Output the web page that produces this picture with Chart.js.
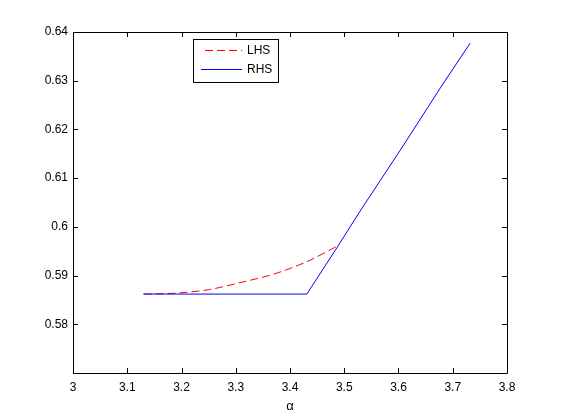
<!DOCTYPE html>
<html lang="en">
<head>
  <meta charset="UTF-8">
  <title>LHS vs RHS</title>
  <style>
    body { margin: 0; background: #fff; }
    #chart { display: block; }
  </style>
</head>
<body>
  <canvas id="chart" width="561" height="420"></canvas>

  <script src="https://cdn.jsdelivr.net/npm/chart.js"></script>
  <script>
    const lhsX = [3.13, 3.19, 3.25, 3.31, 3.37, 3.43, 3.49];
    const lhsY = [0.5862, 0.5864, 0.5871, 0.5886, 0.5903, 0.5928, 0.5962];

    const rhsX = [3.13, 3.431, 3.487, 3.529, 3.603, 3.677, 3.732];
    const rhsY = [0.5862, 0.5862, 0.5958, 0.6032, 0.6157, 0.6285, 0.6377];

    const seriesNames = ['LHS', 'RHS'];
    const FONT = "'Liberation Sans', Arial, sans-serif";

    const toPoints = (xs, ys) => xs.map((x, i) => ({ x: x, y: ys[i] }));

    // box, inward ticks and legend like the original figure
    const frame = {
      id: 'frame',
      afterDraw(chart) {
        const ctx = chart.ctx;
        const a = chart.chartArea;
        const xs = chart.scales.x, ys = chart.scales.y;
        ctx.save();
        ctx.strokeStyle = '#000';
        ctx.lineWidth = 1;
        ctx.beginPath();
        ctx.rect(Math.round(a.left) + 0.5, Math.round(a.top) + 0.5,
                 Math.round(a.right - a.left), Math.round(a.bottom - a.top));
        xs.ticks.forEach(t => {
          const px = Math.round(xs.getPixelForValue(t.value)) + 0.5;
          ctx.moveTo(px, a.bottom); ctx.lineTo(px, a.bottom - 5);
          ctx.moveTo(px, a.top); ctx.lineTo(px, a.top + 5);
        });
        ys.ticks.forEach(t => {
          const py = Math.round(ys.getPixelForValue(t.value)) + 0.5;
          ctx.moveTo(a.left, py); ctx.lineTo(a.left + 5, py);
          ctx.moveTo(a.right, py); ctx.lineTo(a.right - 5, py);
        });
        ctx.stroke();

        // legend
        ctx.fillStyle = '#fff';
        ctx.fillRect(193, 39, 85, 43);
        ctx.strokeRect(193.5, 39.5, 85, 43);
        ctx.font = '12px ' + FONT;
        ctx.textBaseline = 'middle';
        ctx.fillStyle = '#000';
        ctx.strokeStyle = '#ff0000';
        ctx.setLineDash([8, 4]);
        ctx.beginPath();
        ctx.moveTo(205, 50.5); ctx.lineTo(242, 50.5);
        ctx.stroke();
        ctx.setLineDash([]);
        ctx.strokeStyle = '#0000ff';
        ctx.beginPath();
        ctx.moveTo(201, 69.5); ctx.lineTo(242, 69.5);
        ctx.stroke();
        ctx.fillText(seriesNames[0], 247, 51);
        ctx.fillText(seriesNames[1], 247, 70);
        ctx.restore();
      }
    };

    new Chart(document.getElementById('chart'), {
      type: 'scatter',
      data: {
        datasets: [
          {
            label: seriesNames[0],
            data: toPoints(lhsX, lhsY),
            showLine: true,
            borderColor: '#ff0000',
            borderWidth: 1,
            borderDash: [8, 4],
            pointRadius: 0,
            tension: 0.3,
            order: 2
          },
          {
            label: seriesNames[1],
            data: toPoints(rhsX, rhsY),
            showLine: true,
            borderColor: '#0000ff',
            borderWidth: 1,
            pointRadius: 0,
            tension: 0,
            order: 1
          }
        ]
      },
      options: {
        responsive: false,
        animation: false,
        layout: { padding: { left: 0, top: 32, right: 54, bottom: 0 } },
        plugins: {
          legend: { display: false },
          tooltip: { enabled: false }
        },
        scales: {
          x: {
            type: 'linear',
            min: 3, max: 3.8,
            border: { display: false },
            grid: { display: false, drawTicks: false },
            ticks: {
              stepSize: 0.1,
              padding: 7,
              color: '#000',
              font: { family: FONT, size: 12 },
              maxRotation: 0,
              callback: v => String(Math.round(v * 10) / 10)
            },
            title: {
              display: true,
              text: 'α',
              color: '#000',
              font: { family: FONT, size: 13 },
              padding: { top: 0, bottom: 6 }
            },
            afterFit: s => { s.height = 47; }
          },
          y: {
            type: 'linear',
            min: 0.57, max: 0.64,
            border: { display: false },
            grid: { display: false, drawTicks: false },
            ticks: {
              stepSize: 0.01,
              padding: 5,
              color: '#000',
              font: { family: FONT, size: 12 },
              callback: v => Math.abs(v - 0.57) < 1e-6 ? '' : String(Math.round(v * 100) / 100)
            },
            afterFit: s => { s.width = 73; }
          }
        }
      },
      plugins: [frame]
    });
  </script>
</body>
</html>
